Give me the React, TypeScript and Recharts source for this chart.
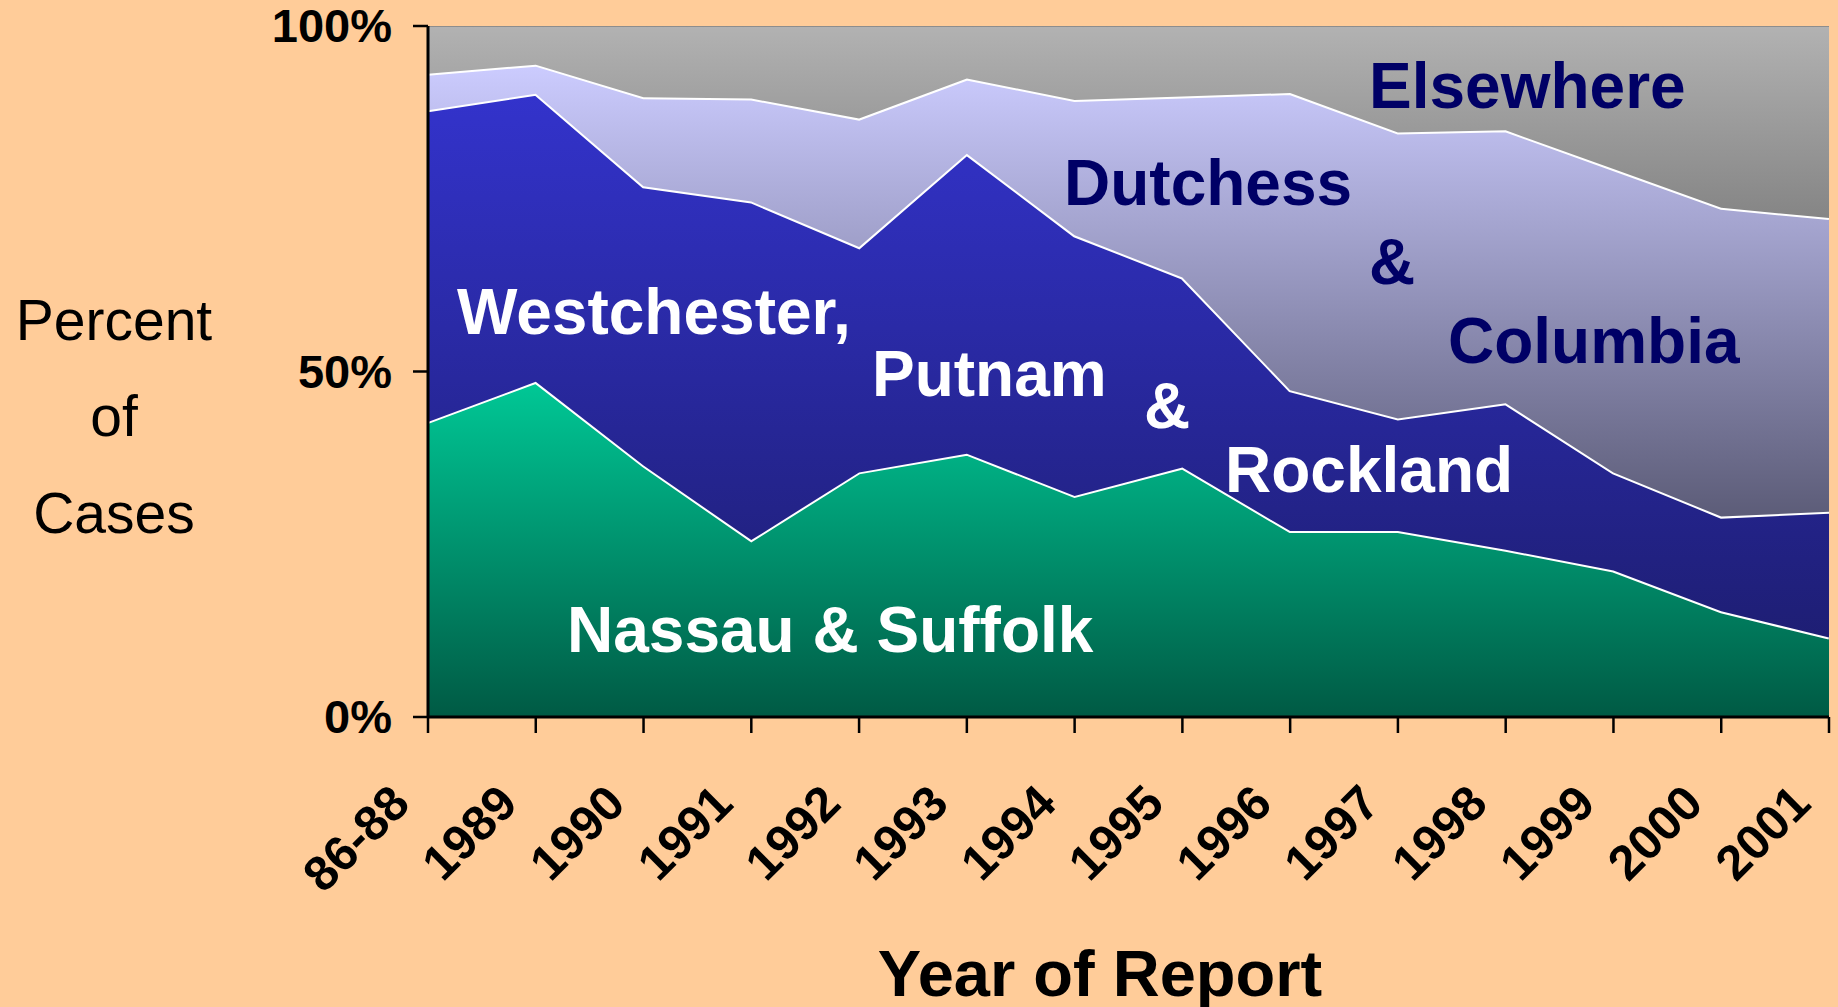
import React from "react";
import { AreaChart, Area, XAxis, YAxis } from "recharts";

const years = ["86-88", "1989", "1990", "1991", "1992", "1993", "1994", "1995", "1996", "1997", "1998", "1999", "2000", "2001"];
const nassauSuffolk = [42.7, 48.5, 36.4, 25.6, 35.4, 38.1, 32.0, 36.1, 26.9, 26.9, 24.2, 21.2, 15.3, 11.5];
const westchesterPutnamRockland = [45.1, 41.7, 40.4, 49.0, 32.6, 43.4, 37.7, 27.5, 20.4, 16.3, 21.2, 14.2, 13.7, 18.2];
const dutchessColumbia = [5.3, 4.2, 12.9, 14.9, 18.6, 10.9, 19.6, 26.2, 43.0, 41.4, 39.5, 43.9, 44.7, 42.5];
const elsewhere = [6.9, 5.6, 10.3, 10.5, 13.4, 7.6, 10.7, 10.2, 9.7, 15.4, 15.1, 20.7, 26.3, 27.8];
const yTicks = [0, 50, 100];

const data = years.map((y, i) => ({
  year: y,
  nassau: nassauSuffolk[i],
  west: westchesterPutnamRockland[i],
  dutch: dutchessColumbia[i],
  else: elsewhere[i],
}));

const FONT = "'Liberation Sans', Arial, Helvetica, sans-serif";
const W = 1838;
const H = 1007;
const PLOT_BOTTOM = 717;

const XTick = (props: any) => {
  const { x, payload } = props;
  return (
    <g transform={`translate(${x - 16},${PLOT_BOTTOM + 89})`}>
      <text
        textAnchor="end"
        transform="rotate(-45)"
        fontFamily={FONT}
        fontWeight="bold"
        fontSize={49}
        fill="#000"
      >
        {payload.value}
      </text>
    </g>
  );
};

const YTick = (props: any) => {
  const { x, y, payload } = props;
  return (
    <text
      x={x + 1}
      y={y + 16}
      textAnchor="end"
      fontFamily={FONT}
      fontWeight="bold"
      fontSize={47}
      fill="#000"
    >
      {payload.value}%
    </text>
  );
};

export default function App() {
  const whiteLbl = { fontFamily: FONT, fontWeight: "bold" as const, fontSize: 64, fill: "#FFFFFF" };
  const navyLbl = { fontFamily: FONT, fontWeight: "bold" as const, fontSize: 64, fill: "#000066" };
  return (
    <div style={{ position: "fixed", left: 0, top: 0, width: W, height: H, background: "#FFCC99", overflow: "hidden" }}>
      <AreaChart
        width={W}
        height={H}
        data={data}
        margin={{ top: 26, right: 9, left: 0, bottom: 0 }}
      >
        <defs>
          <linearGradient id="gGreen" x1="0" y1="0" x2="0" y2="1">
            <stop offset="0%" stopColor="#00C896" />
            <stop offset="100%" stopColor="#005A44" />
          </linearGradient>
          <linearGradient id="gBlue" x1="0" y1="0" x2="0" y2="1">
            <stop offset="0%" stopColor="#3333CC" />
            <stop offset="100%" stopColor="#1E1E74" />
          </linearGradient>
          <linearGradient id="gLav" x1="0" y1="0" x2="0" y2="1">
            <stop offset="0%" stopColor="#CCCCFF" />
            <stop offset="100%" stopColor="#5C5C78" />
          </linearGradient>
          <linearGradient id="gGray" x1="0" y1="0" x2="0" y2="1">
            <stop offset="0%" stopColor="#B2B2B2" />
            <stop offset="100%" stopColor="#858585" />
          </linearGradient>
        </defs>
        <XAxis
          dataKey="year"
          height={H - PLOT_BOTTOM}
          tick={<XTick />}
          tickSize={16}
          axisLine={{ stroke: "#000", strokeWidth: 3 }}
          tickLine={{ stroke: "#000", strokeWidth: 2.5 }}
          interval={0}
        />
        <YAxis
          domain={[0, 100]}
          ticks={yTicks}
          width={428}
          tick={<YTick />}
          tickSize={15}
          tickMargin={22}
          axisLine={{ stroke: "#000", strokeWidth: 3 }}
          tickLine={{ stroke: "#000", strokeWidth: 2.5 }}
          allowDataOverflow
        />
        <Area type="linear" dataKey="nassau" stackId="1" fill="url(#gGreen)" fillOpacity={1} stroke="#FFFFFF" strokeWidth={4} isAnimationActive={false} />
        <Area type="linear" dataKey="west" stackId="1" fill="url(#gBlue)" fillOpacity={1} stroke="#FFFFFF" strokeWidth={4} isAnimationActive={false} />
        <Area type="linear" dataKey="dutch" stackId="1" fill="url(#gLav)" fillOpacity={1} stroke="#FFFFFF" strokeWidth={4} isAnimationActive={false} />
        <Area type="linear" dataKey="else" stackId="1" fill="url(#gGray)" fillOpacity={1} stroke="#808080" strokeWidth={1.5} isAnimationActive={false} />
      </AreaChart>
      <svg width={W} height={H} style={{ position: "absolute", left: 0, top: 0, pointerEvents: "none" }}>
        <text x={114} y={340} textAnchor="middle" fontFamily={FONT} fontSize={57} fill="#000">Percent</text>
        <text x={114} y={436} textAnchor="middle" fontFamily={FONT} fontSize={57} fill="#000">of</text>
        <text x={114} y={533} textAnchor="middle" fontFamily={FONT} fontSize={57} fill="#000">Cases</text>
        <text x={1100} y={996} textAnchor="middle" fontFamily={FONT} fontWeight="bold" fontSize={65} fill="#000">Year of Report</text>

        <text x={457} y={334} {...whiteLbl}>Westchester,</text>
        <text x={872} y={396} {...whiteLbl}>Putnam</text>
        <text x={1144} y={428} {...whiteLbl}>&amp;</text>
        <text x={1225} y={492} {...whiteLbl}>Rockland</text>
        <text x={567} y={652} {...whiteLbl}>Nassau &amp; Suffolk</text>

        <text x={1064} y={205} {...navyLbl}>Dutchess</text>
        <text x={1369} y={284} {...navyLbl}>&amp;</text>
        <text x={1448} y={363} {...navyLbl}>Columbia</text>
        <text x={1369} y={108} {...navyLbl}>Elsewhere</text>
      </svg>
    </div>
  );
}
